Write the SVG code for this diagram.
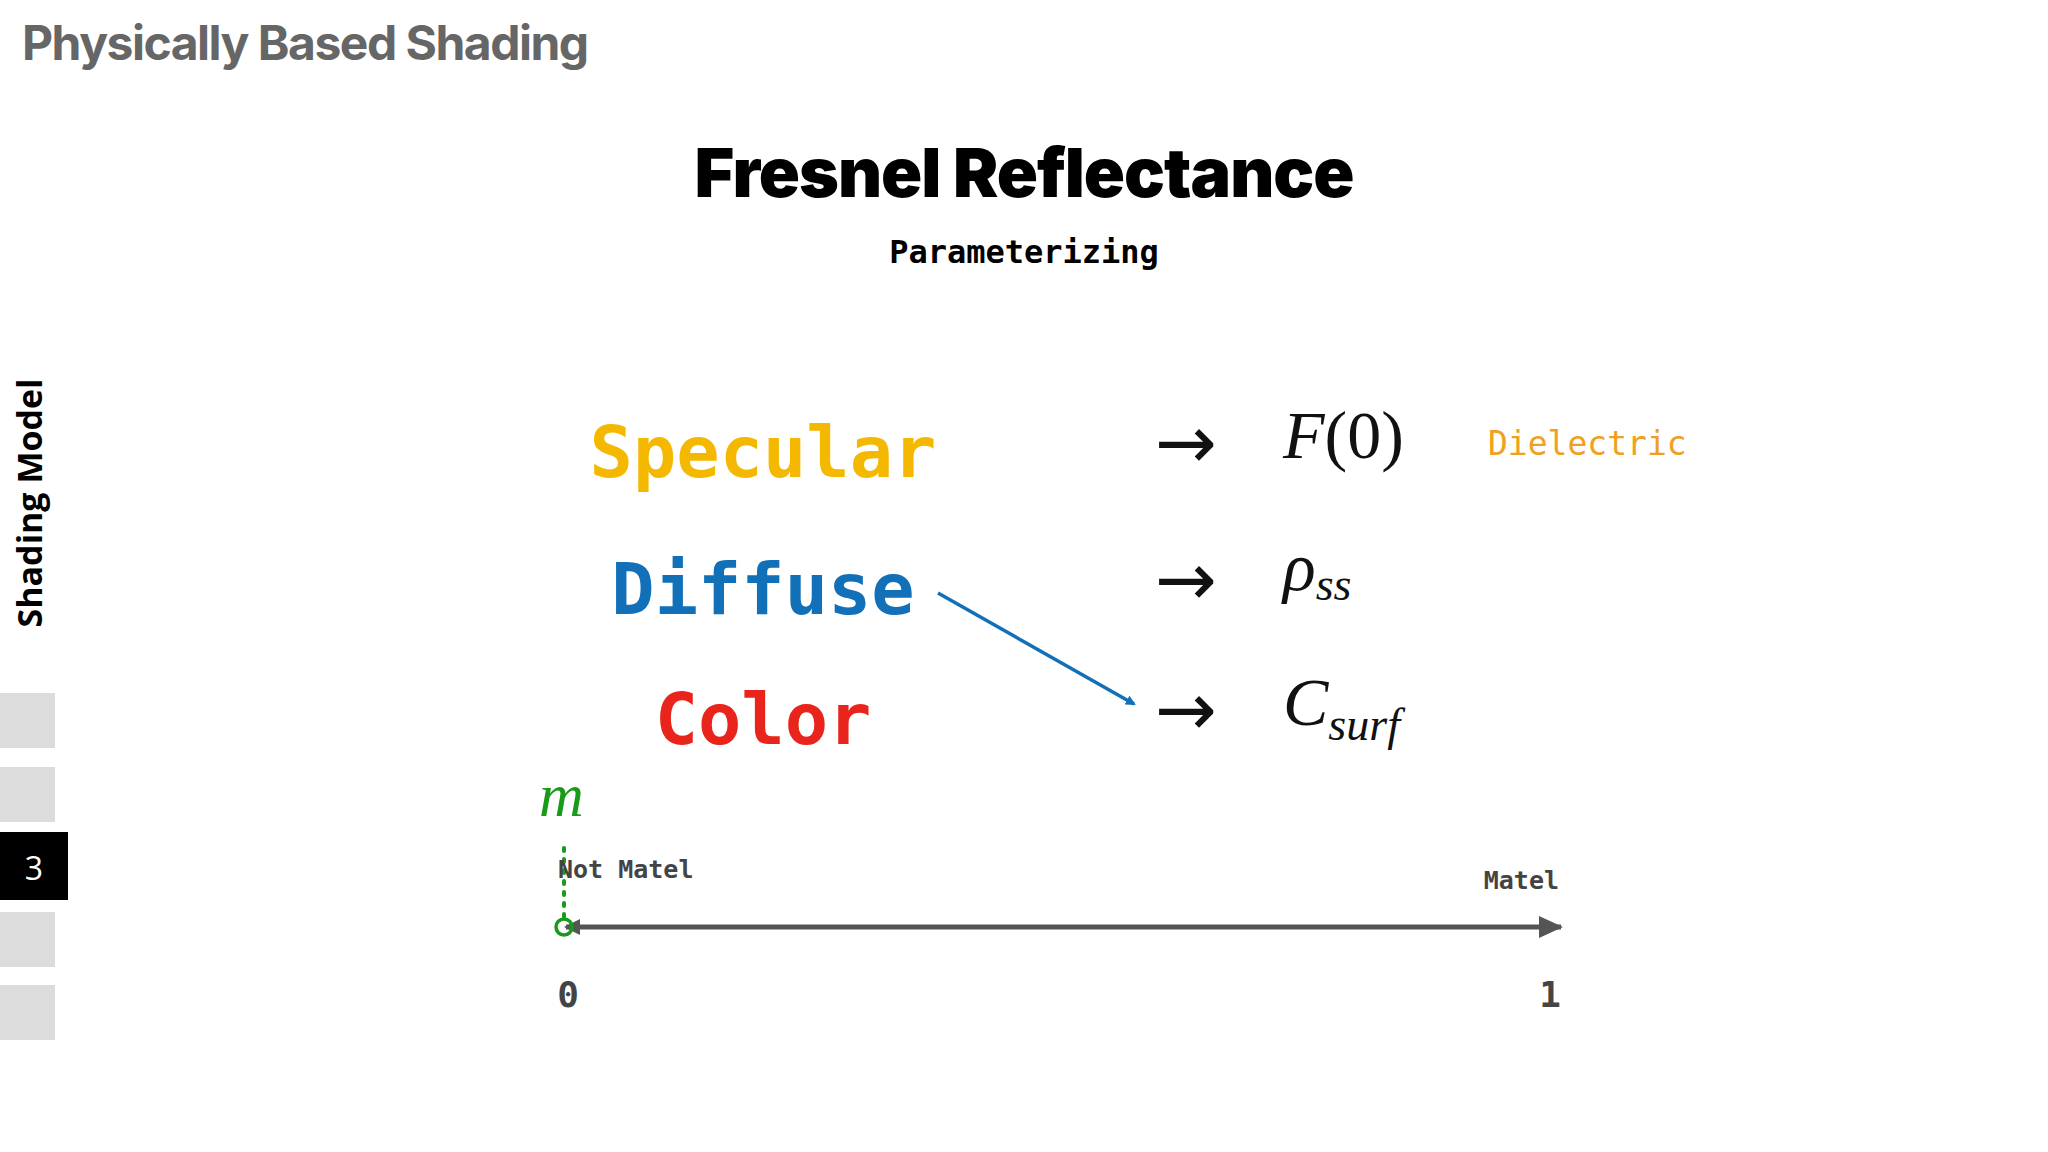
<svg xmlns="http://www.w3.org/2000/svg" width="2048" height="1152" viewBox="0 0 2048 1152">
<style>
.mono{font-family:"DejaVu Sans Mono","Liberation Mono",monospace;font-weight:bold}
.math{font-family:"Liberation Serif","DejaVu Serif",serif;font-style:italic}
.arr{font-family:"DejaVu Sans",sans-serif;font-size:74px;fill:#111}
.side{fill:#dcdcdc}
</style>
<defs>
<marker id="ah" markerWidth="10" markerHeight="10" refX="8" refY="5" orient="auto" markerUnits="userSpaceOnUse"><path d="M0,0 L10,5 L0,10 z" fill="#1170b8"/></marker>
<marker id="ax" markerWidth="24" markerHeight="22" refX="22" refY="11" orient="auto" markerUnits="userSpaceOnUse"><path d="M0,0 L24,11 L0,22 z" fill="#555"/></marker>
<marker id="axs" markerWidth="16" markerHeight="16" refX="2" refY="8" orient="auto" markerUnits="userSpaceOnUse"><path d="M16,0 L0,8 L16,16 z" fill="#555"/></marker>
</defs>
<rect width="2048" height="1152" fill="#fff"/>
<text x="22" y="60" font-family="Inter,'Liberation Sans',sans-serif" font-weight="bold" font-size="48" fill="#666" letter-spacing="-1.5">Physically Based Shading</text>
<text x="1024" y="197" text-anchor="middle" font-family="Inter,'Liberation Sans',sans-serif" font-weight="900" font-size="68" fill="#000" letter-spacing="-1">Fresnel Reflectance</text>
<text x="1024" y="263" text-anchor="middle" class="mono" font-size="32" fill="#000">Parameterizing</text>
<g id="sidebar">
<text transform="translate(42,503) rotate(-90)" text-anchor="middle" font-family="'Open Sans','Liberation Sans',sans-serif" font-weight="bold" font-size="34" fill="#000">Shading Model</text>
<rect class="side" x="0" y="693" width="55" height="55"/>
<rect class="side" x="0" y="767" width="55" height="55"/>
<rect x="0" y="832" width="68" height="68" fill="#000"/>
<text x="34" y="880" text-anchor="middle" font-family="'Open Sans','Liberation Sans',sans-serif" font-size="32" fill="#fff">3</text>
<rect class="side" x="0" y="912" width="55" height="55"/>
<rect class="side" x="0" y="985" width="55" height="55"/>
</g>
<g id="specular"><text x="763" y="477" text-anchor="middle" class="mono" font-size="72" fill="#f5b800">Specular</text></g>
<g id="diffuse"><text x="763" y="614" text-anchor="middle" class="mono" font-size="72" fill="#1170b8">Diffuse</text></g>
<g id="color"><text x="763" y="744" text-anchor="middle" class="mono" font-size="72" fill="#e8241c">Color</text></g>
<g id="f0"><text x="1283" y="458" class="math" font-size="68" fill="#111">F<tspan font-style="normal">(0)</tspan></text></g>
<g id="rho"><text x="1283" y="590" class="math" font-size="68" fill="#111">ρ<tspan font-size="46" dy="10">ss</tspan></text></g>
<g id="csurf"><text x="1283" y="725" class="math" font-size="68" fill="#111">C<tspan font-size="46" dy="15">surf</tspan></text></g>
<text x="1488" y="455" class="mono" font-weight="normal" font-size="33" fill="#f0a020" style="font-weight:normal">Dielectric</text>
<g id="connectors">
<text x="1186" y="468" text-anchor="middle" class="arr">→</text>
<text x="1186" y="605" text-anchor="middle" class="arr">→</text>
<text x="1186" y="735" text-anchor="middle" class="arr">→</text>
<line x1="938" y1="593" x2="1134" y2="704" stroke="#1170b8" stroke-width="3.5" marker-end="url(#ah)"/>
<line x1="566" y1="927" x2="1561" y2="927" stroke="#555" stroke-width="5" marker-end="url(#ax)" marker-start="url(#axs)"/>
<line x1="564" y1="848" x2="564" y2="920" stroke="#1a9a1a" stroke-width="4" stroke-dasharray="3,8" stroke-linecap="round"/>
<circle cx="564" cy="927" r="8" fill="none" stroke="#1a9a1a" stroke-width="3.5"/>
</g>
<text x="539" y="816" class="math" font-size="62" fill="#1a9a1a">m</text>
<text x="558" y="878" class="mono" font-size="25" fill="#444">Not Matel</text>
<text x="1559" y="889" text-anchor="end" class="mono" font-size="25" fill="#444">Matel</text>
<text x="568" y="1007" text-anchor="middle" class="mono" font-size="36" fill="#444">0</text>
<text x="1550" y="1007" text-anchor="middle" class="mono" font-size="36" fill="#444">1</text>
</svg>
